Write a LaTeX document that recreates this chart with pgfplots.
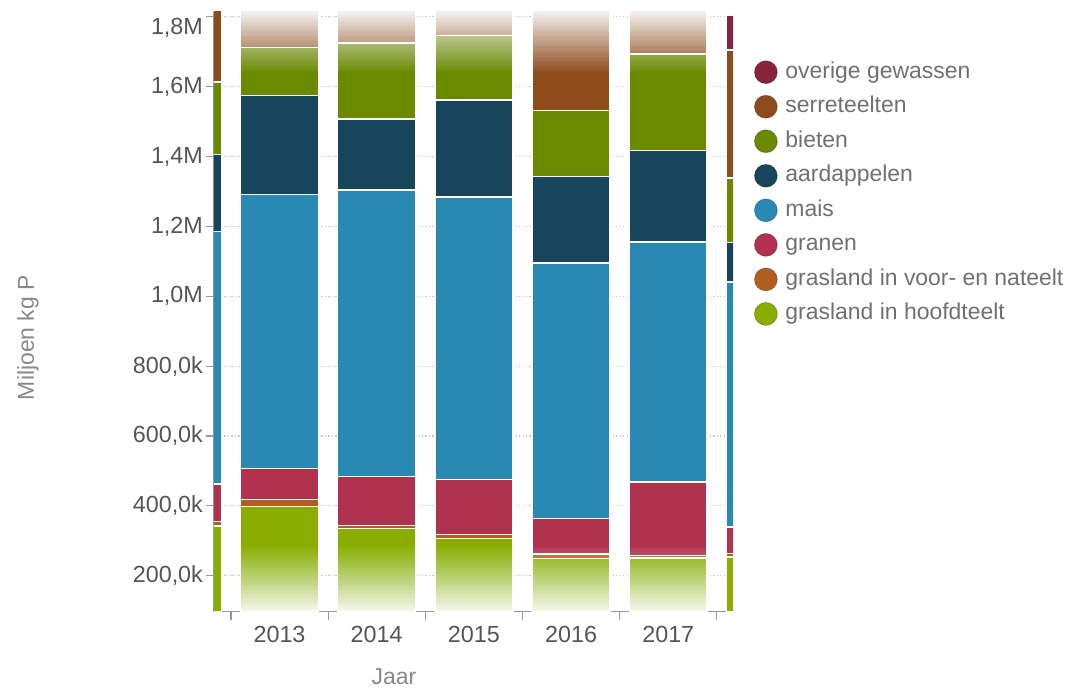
\documentclass[border=0pt]{standalone}
\usepackage{fontspec}
\setmainfont{Liberation Sans}
\usepackage{pgfplots}
\pgfplotsset{compat=1.18}
\definecolor{cOv}{HTML}{86243E}
\definecolor{cSe}{HTML}{8E4B1C}
\definecolor{cBi}{HTML}{6B8A00}
\definecolor{cAa}{HTML}{17455C}
\definecolor{cMa}{HTML}{2A89B3}
\definecolor{cGr}{HTML}{B0324E}
\definecolor{cVo}{HTML}{B25E20}
\definecolor{cHo}{HTML}{8AAD00}
\definecolor{cTick}{HTML}{555555}
\definecolor{cLeg}{HTML}{707070}
\definecolor{cTitle}{HTML}{888888}
\definecolor{cAx}{HTML}{999999}
\definecolor{cGrid}{HTML}{C8C8C8}
\newcommand\fs{\fontsize{17.5}{21}\selectfont}
\newcommand\fl{\fontsize{17.2}{20.6}\selectfont}
\newcommand\topl{1,8M}
\begin{document}
\begin{tikzpicture}
\path (0,0) rectangle (801pt,515.25pt);
\begin{axis}[
  at={(160.5pt,56.5pt)}, anchor=south west,
  scale only axis, width=389.25pt, height=449.8pt,
  ybar stacked, bar width=0.8,
  legend image code/.code={\path[#1, draw=black, draw opacity=0.25, line width=0.6pt] (9pt,0pt) circle (8.6pt);},
  xmin=0.326, xmax=5.666, ymin=97, ymax=1814,
  enlargelimits=false, clip=true,
  axis x line*=bottom, axis y line*=left,
  axis line style={draw=cAx, line width=1.2pt},
  tick align=outside,
  xtick={0.5,1.5,2.5,3.5,4.5,5.5},
  xticklabels={2013,2014,2015,2016,2017,{}},
  xticklabel style={xshift=36.45pt, yshift=-1.5pt, font=\fs, text=cTick},
  x tick style={draw=cAx, line width=0.9pt},
  major tick length=6pt,
  ytick={200,400,600,800,1000,1200,1400,1600},
  yticklabels={{200,0k},{400,0k},{600,0k},{800,0k},{1,0M},{1,2M},{1,4M},{1,6M}},
  extra y ticks={1800}, extra y tick labels={\topl},
  extra y tick style={grid=major, yticklabel style={yshift=-8.3pt}},
  yticklabel style={font=\fs, text=cTick, xshift=1.2pt},
  y tick style={draw=cAx, line width=0.9pt},
  ymajorgrids, grid style={draw=cGrid, line width=0.8pt, dash pattern=on 1pt off 1.6pt},
  /pgf/number format/assume math mode=true,
  every axis y label/.style={at={(axis description cs:-0.3584,0.457)}, rotate=90, anchor=center, font=\fl, text=cTitle},
  every axis x label/.style={at={(axis description cs:0.3468,-0.109)}, anchor=center, font=\fl, text=cTitle},
  ylabel={Miljoen kg P}, xlabel={Jaar},
  reverse legend,
  legend cell align=left,
  legend style={at={(axis description cs:1.0405,0.9193)}, anchor=north west, draw=none, fill=none,
    inner sep=0pt, outer sep=0pt, row sep=8.1pt, font=\fl, text=cLeg,
    nodes={inner sep=0pt, text height=12.5pt, text depth=3.5pt},
    /tikz/every odd column/.append style={column sep=5.8pt}},
  every axis plot/.append style={draw=white, line width=1pt},
]
% order: hoofdteelt, voor-nateelt, granen, mais, aardappelen, bieten, serre, overige ; x = 2012..2018 -> 0..6
\addplot[fill=cHo] coordinates {(0,342.2) (1,397.5) (2,334.5) (3,305.9) (4,248.7) (5,250.7) (6,253.5)};
\addlegendentry{grasland in hoofdteelt}
\addplot[fill=cVo] coordinates {(0,12.3) (1,21.2) (2,8.6) (3,12.6) (4,13.4) (5,6.5) (6,10.6)};
\addlegendentry{grasland in voor- en nateelt}
\addplot[fill=cGr] coordinates {(0,107.9) (1,88.7) (2,140.2) (3,157.4) (4,102.2) (5,211.0) (6,75.3)};
\addlegendentry{granen}
\addplot[fill=cMa] coordinates {(0,722.1) (1,784.2) (2,820.6) (3,807.9) (4,730.6) (5,686.8) (6,701.2)};
\addlegendentry{mais}
\addplot[fill=cAa] coordinates {(0,221.5) (1,282.2) (2,203.7) (3,277.7) (4,248.2) (5,261.4) (6,112.4)};
\addlegendentry{aardappelen}
\addplot[fill=cBi] coordinates {(0,207.0) (1,138.8) (2,217.9) (3,185.1) (4,188.9) (5,276.7) (6,185.2)};
\addlegendentry{bieten}
\addplot[fill=cSe] coordinates {(0,350) (1,350) (2,350) (3,350) (4,350) (5,350) (6,366.4)};
\addlegendentry{serreteelten}
\addplot[fill=cOv] coordinates {(0,100) (1,100) (2,100) (3,100) (4,100) (5,100) (6,100)};
\addlegendentry{overige gewassen}
\node[anchor=west, font=\fl, text=cTitle, inner sep=0pt] at (axis description cs:1.0424,0.975) {gewasgroep};
\end{axis}
% overlay axis: fade-out of the clipped ends of the bars 2013-2017 (nested translucent white layers)
\begin{axis}[
  at={(160.5pt,56.5pt)}, anchor=south west,
  scale only axis, width=389.25pt, height=449.8pt,
  xmin=0.326, xmax=5.666, ymin=97, ymax=1814,
  hide axis, clip=true,
]
\pgfplotsextra{
  \foreach \i in {1,...,5}{
    \foreach \k in {1,...,24}{
      \pgfmathsetmacro\op{1-(1-0.92*\k/24)/(1-0.92*(\k-1)/24)}
      \pgfmathsetmacro\xa{\i-0.408}
      \pgfmathsetmacro\xb{\i+0.408}
      \pgfmathsetmacro\yt{1641+(\k-1)*173/24}
      \pgfmathsetmacro\yd{283-(\k-1)*186/24}
      \fill[white, fill opacity=\op] (axis cs:\xa,\yt) rectangle (axis cs:\xb,1840);
      \fill[white, fill opacity=\op] (axis cs:\xa,70) rectangle (axis cs:\xb,\yd);
    }
  }
}
\end{axis}
\end{tikzpicture}
\end{document}
